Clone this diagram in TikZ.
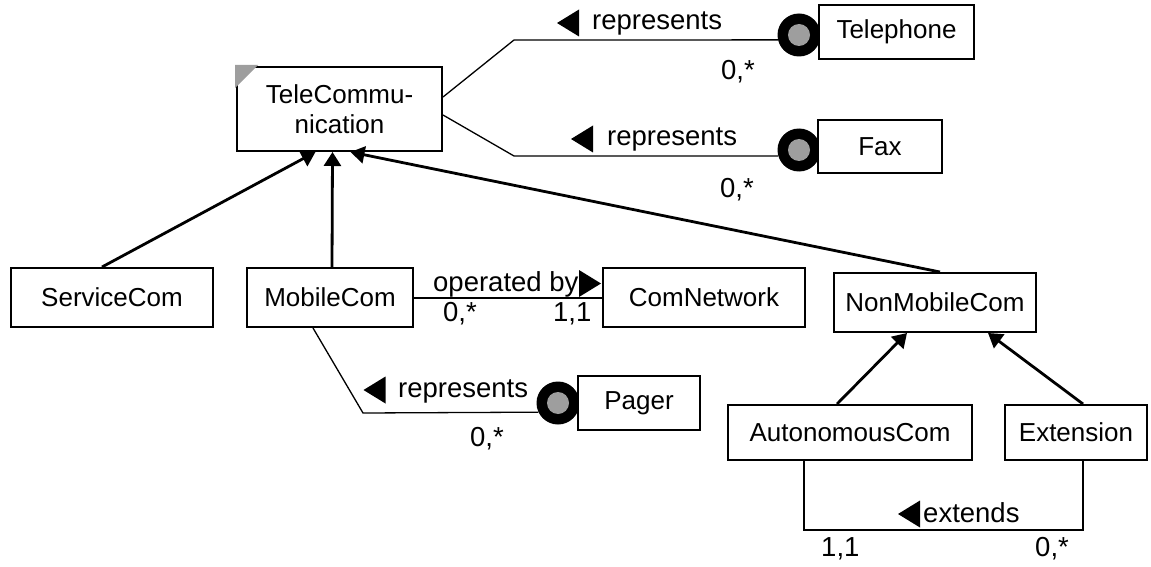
\documentclass[tikz,border=0pt]{standalone}
\usepackage{fontspec}
\setmainfont{Liberation Sans}
\usepackage{tikz}
\usetikzlibrary{arrows.meta,positioning,calc}
\definecolor{UMLGray}{RGB}{158,158,158}
\newcommand{\umlfont}{\fontsize{26}{30}\selectfont}
\newcommand{\rolefont}{\fontsize{27.5}{33}\selectfont}

\begin{document}
\begin{tikzpicture}[
    x=1pt,y=-1pt,
    cls/.style={draw=black, line width=2pt, fill=white, inner sep=0pt, align=center, font=\umlfont},
    lbl/.style={anchor=base west, inner sep=0pt, font=\rolefont},
    isa/.style={-{Triangle[length=14pt,width=17pt]}, line width=2.8pt},
    assoc/.style={line width=2pt},
    repl/.style={line width=1.3pt},
    repdot/.style={circle, fill=black, minimum size=43pt, inner sep=0pt, path picture={\fill[UMLGray] (path picture bounding box.center) circle (11pt);}},
    dirl/.pic={\fill (-11,0) -- (11,-13.5) -- (11,13.5) -- cycle;},
    dirr/.pic={\fill (11,0) -- (-11,-13.5) -- (-11,13.5) -- cycle;}
  ]
    \useasboundingbox (0,0) rectangle (1151,567);
    % role dots (under the class boxes)
    \node[repdot] (phonedot) at (799,35) {};
    \node[repdot] (faxdot) at (799,150) {};
    \node[repdot] (pagerdot) at (558,403) {};
    % classes
    \foreach \x/\y/\w/\h/\name/\lab in {339.5/109/205/84/tele/{TeleCommu-\\nication},896.5/32/155/54/phone/Telephone,880/146.5/124/53/fax/Fax,112/297.5/202/59/service/ServiceCom,330/297.5/166/59/mobile/MobileCom,704/297.5/202/59/network/ComNetwork,935/302.5/202/59/nonmobile/NonMobileCom,639/403/122/54/pager/Pager,850/432.5/244/55/autonomous/AutonomousCom,1076/432.5/142/55/extension/Extension} {
      \node[cls, minimum width=\w pt, minimum height=\h pt] (\name) at (\x,\y) {\lab};
    }
    \fill[UMLGray] ($(tele.north west)+(-1,-1)$) -- ++(23,0) -- ++(-23,23) -- cycle;
    % generalisation
    \draw[isa] ($(service.north)+(-10,0)$) -- ($(tele.south)+(-24,0)$);
    \draw[isa] ($(mobile.north)+(2,0)$) -- ($(tele.south)+(-7,0)$);
    \draw[isa] ($(nonmobile.north)+(5,0)$) -- ($(tele.south)+(11,0)$);
    \draw[isa] ($(autonomous.north)+(-13,0)$) -- ($(nonmobile.south)+(-28,0)$);
    \draw[isa] ($(extension.north)+(7,0)$) -- ($(nonmobile.south)+(53,0)$);
    % represents links
    \draw[repl] ($(tele.east)+(0,-12)$) -- ++(71,-57) -- (phonedot.193);
    \draw[repl] ($(tele.east)+(0,6)$) -- ++(71,41) -- (faxdot.196);
    \draw[repl] ($(mobile.south)+(-17,0)$) -- ++(50,85) -- (pagerdot.205);
    % associations
    \draw[assoc] (mobile) -- (network);
    \draw[assoc] ($(autonomous.south)+(-46,0)$) -- ++(0,69) -| ($(extension.south)+(7,0)$);
    % reading directions
    \pic (phonearr) at (568,23) {dirl};
    \pic (faxarr) at (582,139) {dirl};
    \pic (oparr) at (590,283.5) {dirr};
    \pic (pagerarr) at (374.5,390) {dirl};
    \pic (extarr) at (909,514) {dirl};
    \foreach \x/\y/\name/\lab in {592/30/phonerole/represents,721/80/phonecard/{0,*},607/146/faxrole/represents,720/197/faxcard/{0,*},433/291/oprole/operated by,443/321/opcardm/{0,*},553/321/opcardn/{1,1},398/397/pagerrole/represents,470/446/pagercard/{0,*},923/522/extrole/extends,821/556/extcarda/{1,1},1035/556/extcarde/{0,*}} {
      \node[lbl] (\name) at (\x,\y) {\lab};
    }
  \end{tikzpicture}
\end{document}
